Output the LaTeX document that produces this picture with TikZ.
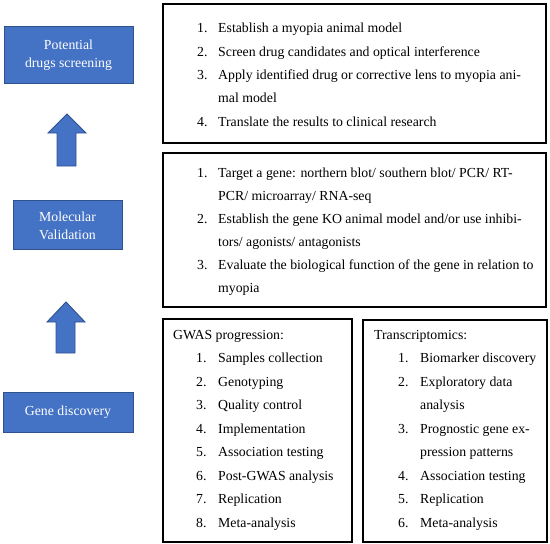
\documentclass[tikz,border=0pt]{standalone}
\usepackage{fontspec}
\setmainfont{Liberation Serif}
\definecolor{officeblue}{HTML}{4472C4}
\definecolor{officeedge}{HTML}{2F528F}
\tikzset{
  x=1pt, y=-1pt,
  bluebox/.style={fill=officeblue, draw=officeedge, line width=0.9pt},
  bluetext/.style={text=white, font=\fontsize{13.8}{16}\selectfont, align=center, inner sep=0pt},
  listbox/.style={draw=black, line width=1.4pt},
  ln/.style={anchor=base west, inner sep=0pt, font=\fontsize{13.8}{16}\selectfont},
  uparrow/.style={fill=officeblue, draw=officeedge, line width=0.9pt, line join=miter}
}
\begin{document}
\begin{tikzpicture}
\useasboundingbox (0,0) rectangle (550,544);
% left blue boxes
\draw[bluebox] (4,26) rectangle (133,83);
\node[bluetext] (b1) at (68.5,55) {Potential\\[2pt]drugs screening};
\draw[bluebox] (13,200) rectangle (122,249);
\node[bluetext] (b2) at (67.5,226) {Molecular\\[2pt]Validation};
\draw[bluebox] (3,392) rectangle (133,432);
\node[bluetext] (b3) at (68,412) {Gene discovery};
% arrows
\draw[uparrow] (67,114) -- (86,133) -- (76,133) -- (76,166) -- (57,166) -- (57,133) -- (48,133) -- cycle;
\draw[uparrow] (66,302) -- (85,322) -- (75,322) -- (75,353) -- (56,353) -- (56,322) -- (47,322) -- cycle;
% right boxes
\draw[listbox] (163,4) rectangle (546,143);
\draw[listbox] (163,153) rectangle (546,307);
\draw[listbox] (163,319) rectangle (352,542);
\draw[listbox] (363,320) rectangle (547,542);
% box A
\node[ln] (a1n) at (197,32) {1.};
\node[ln] (a1) at (218,32) {Establish a myopia animal model};
\node[ln] (a2n) at (197,56) {2.};
\node[ln] (a2) at (218,56) {Screen drug candidates and optical interference};
\node[ln] (a3n) at (197,79) {3.};
\node[ln] (a3) at (218,79) {Apply identified drug or corrective lens to myopia ani-};
\node[ln] (a3b) at (218,102) {mal model};
\node[ln] (a4n) at (197,126) {4.};
\node[ln] (a4) at (218,126) {Translate the results to clinical research};
% box B
\node[ln] (m1n) at (197,177) {1.};
\node[ln] (m1) at (218,177) {Target a gene: northern blot/ southern blot/ PCR/ RT-};
\node[ln] (m1b) at (218,200) {PCR/ microarray/ RNA-seq};
\node[ln] (m2n) at (197,223) {2.};
\node[ln] (m2) at (218,223) {Establish the gene KO animal model and/or use inhibi-};
\node[ln] (m2b) at (218,246) {tors/ agonists/ antagonists};
\node[ln] (m3n) at (197,269) {3.};
\node[ln] (m3) at (218,269) {Evaluate the biological function of the gene in relation to};
\node[ln] (m3b) at (218,292) {myopia};
% box C
\node[ln] (gt) at (173,339) {GWAS progression:};
\node[ln] (g1n) at (196,362.5) {1.};
\node[ln] (g1) at (218,362.5) {Samples collection};
\node[ln] (g2n) at (196,386) {2.};
\node[ln] (g2) at (218,386) {Genotyping};
\node[ln] (g3n) at (196,409.5) {3.};
\node[ln] (g3) at (218,409.5) {Quality control};
\node[ln] (g4n) at (196,433) {4.};
\node[ln] (g4) at (218,433) {Implementation};
\node[ln] (g5n) at (196,456.5) {5.};
\node[ln] (g5) at (218,456.5) {Association testing};
\node[ln] (g6n) at (196,480) {6.};
\node[ln] (g6) at (218,480) {Post-GWAS analysis};
\node[ln] (g7n) at (196,503.5) {7.};
\node[ln] (g7) at (218,503.5) {Replication};
\node[ln] (g8n) at (196,527) {8.};
\node[ln] (g8) at (218,527) {Meta-analysis};
% box D
\node[ln] (tt) at (374,339) {Transcriptomics:};
\node[ln] (t1n) at (398,362.5) {1.};
\node[ln] (t1) at (420,362.5) {Biomarker discovery};
\node[ln] (t2n) at (398,386) {2.};
\node[ln] (t2) at (420,386) {Exploratory data};
\node[ln] (t2b) at (420,409.5) {analysis};
\node[ln] (t3n) at (398,433) {3.};
\node[ln] (t3) at (420,433) {Prognostic gene ex-};
\node[ln] (t3b) at (420,456.5) {pression patterns};
\node[ln] (t4n) at (398,480) {4.};
\node[ln] (t4) at (420,480) {Association testing};
\node[ln] (t5n) at (398,503.5) {5.};
\node[ln] (t5) at (420,503.5) {Replication};
\node[ln] (t6n) at (398,527) {6.};
\node[ln] (t6) at (420,527) {Meta-analysis};
\end{tikzpicture}
\end{document}
